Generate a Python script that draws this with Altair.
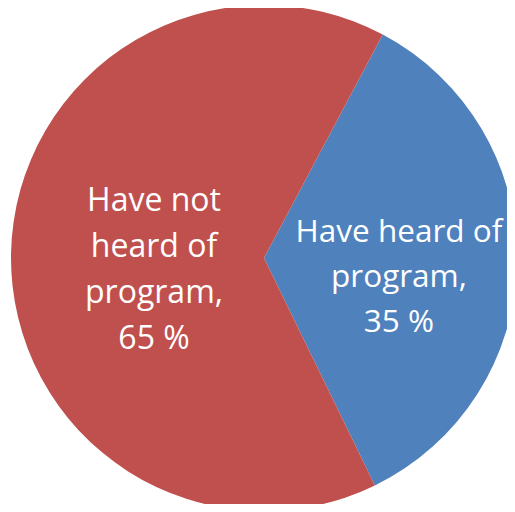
import altair as alt
import pandas as pd
import math

categories = ["Have heard of program", "Have not heard of program"]
values = [35, 65]
labels = ["Have heard of\nprogram,\n35 %", "Have not\nheard of\nprogram,\n65 %"]
colors = ["#4F81BD", "#C0504D"]
order = [0, 1]

df = pd.DataFrame({"category": categories, "value": values, "label": labels, "order": order})

start = 28 / 180 * math.pi
theta_scale = alt.Scale(range=[start, start + 2 * math.pi])

base = alt.Chart(df).encode(
    theta=alt.Theta("value:Q", stack=True, scale=theta_scale),
    order=alt.Order("order:Q"),
)

pie = base.mark_arc(outerRadius=253).encode(
    color=alt.Color("category:N", scale=alt.Scale(domain=categories, range=colors), legend=None),
    x=alt.value(256),
    y=alt.value(250),
)

text_blue = base.mark_text(
    font="Open Sans", fontSize=31.5, color="white", lineBreak="\n", lineHeight=45,
    align="center", baseline="middle", radius=140, dy=-27, dx=-5,
).encode(
    text=alt.Text("label:N"),
    x=alt.value(256),
    y=alt.value(250),
    opacity=alt.condition(alt.datum.order == 0, alt.value(1), alt.value(0)),
)

text_red = base.mark_text(
    font="Open Sans", fontSize=32, color="white", lineBreak="\n", lineHeight=46,
    align="center", baseline="middle", radius=110, dy=-55,
).encode(
    text=alt.Text("label:N"),
    x=alt.value(256),
    y=alt.value(250),
    opacity=alt.condition(alt.datum.order == 1, alt.value(1), alt.value(0)),
)

chart = alt.layer(pie, text_blue, text_red).properties(
    width=499, height=496, padding=0, background="white",
    autosize=alt.AutoSizeParams(type="none"),
).configure_view(stroke=None)

chart.save("out.html", embed_options={"renderer": "svg", "actions": False})
